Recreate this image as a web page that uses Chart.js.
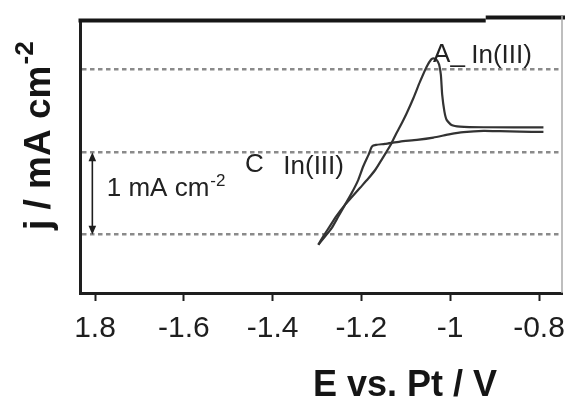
<!DOCTYPE html>
<html>
<head>
<meta charset="utf-8">
<script src="https://cdn.jsdelivr.net/npm/chart.js@4"></script>
<style>
html, body { margin: 0; padding: 0; background: #fff; }
canvas { display: block; }
</style>
</head>
<body>
<canvas id="cv" width="565" height="397"></canvas>
<script>
// Cathodic sweep, from -0.79 V down to the switching potential (E in V vs. Pt, j in mA cm-2)
const cathodicE = [-0.790, -0.843, -0.888, -0.925, -0.970, -1.000, -1.038, -1.075, -1.113, -1.147,
                   -1.167, -1.176, -1.184, -1.196, -1.207, -1.222, -1.237, -1.252, -1.267, -1.282, -1.297];
const cathodicJ = [0.245, 0.248, 0.254, 0.258, 0.242, 0.218, 0.177, 0.149, 0.128, 0.100,
                   0.088, 0.070, -0.033, -0.174, -0.335, -0.496, -0.638, -0.779, -0.920, -1.021, -1.121];

// Anodic return sweep with the In(III) stripping peak
const anodicE = [-1.297, -1.288, -1.272, -1.256, -1.239, -1.221, -1.203, -1.185, -1.169, -1.156,
                 -1.145, -1.133, -1.122, -1.113, -1.098, -1.083, -1.068, -1.053, -1.043, -1.038,
                 -1.031, -1.025, -1.021, -1.018, -1.013, -1.008, -0.997, -0.978, -0.925, -0.790];
const anodicJ = [-1.121, -1.037, -0.904, -0.771, -0.650, -0.541, -0.432, -0.323, -0.216, -0.105,
                 -0.008, 0.100, 0.221, 0.310, 0.472, 0.653, 0.854, 1.036, 1.123, 1.137,
                 1.120, 1.062, 0.935, 0.693, 0.491, 0.391, 0.330, 0.310, 0.302, 0.300];

// Potential axis ticks and their printed labels
const potentialTicks = [-1.8, -1.6, -1.4, -1.2, -1.0, -0.8];
const potentialLabels = ['1.8', '-1.6', '-1.4', '-1.2', '-1', '-0.8'];

// Dashed reference current levels, 1 mA cm-2 apart
const currentLevels = [-1, 0, 1];

const FONT = '"Liberation Sans", Arial, Helvetica, sans-serif';
const INK = '#1e1e1e';
const TRACE = '#333';

function toPoints(es, js) {
  return es.map((e, i) => ({ x: e, y: js[i] }));
}

// Annotation anchors, in axis units
const notes = {
  scaleBar: { e: -1.806, from: 0, to: -1 },
  scaleText: { e: -1.7736, j: -0.537 },
  cathodic: { e: -1.4622, j: -0.245, eText: -1.3759, jText: -0.263 },
  anodic: { e: -1.0385, j: 1.092, eText: -0.9527, jText: 1.080 }
};

const decorations = {
  id: 'decorations',
  afterDraw(chart) {
    const { ctx, chartArea: a, scales: { x, y } } = chart;
    ctx.save();

    // heavy top rule with a slight step towards the right end
    const stepX = x.getPixelForValue(-0.92);
    ctx.strokeStyle = '#161616';
    ctx.lineWidth = 4;
    ctx.beginPath();
    ctx.moveTo(a.left - 1.5, a.top + 0.5);
    ctx.lineTo(stepX, a.top + 0.5);
    ctx.stroke();
    ctx.beginPath();
    ctx.moveTo(stepX, a.top - 2.5);
    ctx.lineTo(chart.width, a.top - 2.5);
    ctx.stroke();

    // faint right edge of the frame
    ctx.strokeStyle = '#a8a8a8';
    ctx.lineWidth = 1.5;
    ctx.beginPath();
    ctx.moveTo(a.right, a.top - 4);
    ctx.lineTo(a.right, a.bottom);
    ctx.stroke();

    // 1 mA cm-2 scale bar with arrowheads at both ends
    const bx = x.getPixelForValue(notes.scaleBar.e);
    const y0 = y.getPixelForValue(notes.scaleBar.from);
    const y1 = y.getPixelForValue(notes.scaleBar.to);
    ctx.strokeStyle = INK;
    ctx.fillStyle = INK;
    ctx.lineWidth = 1.6;
    ctx.beginPath();
    ctx.moveTo(bx, y0 + 4);
    ctx.lineTo(bx, y1 - 4);
    ctx.stroke();
    ctx.beginPath();
    ctx.moveTo(bx, y0);
    ctx.lineTo(bx - 3.8, y0 + 9);
    ctx.lineTo(bx + 3.8, y0 + 9);
    ctx.closePath();
    ctx.fill();
    ctx.beginPath();
    ctx.moveTo(bx, y1);
    ctx.lineTo(bx - 3.8, y1 - 9);
    ctx.lineTo(bx + 3.8, y1 - 9);
    ctx.closePath();
    ctx.fill();

    ctx.fillStyle = '#222';
    ctx.textBaseline = 'alphabetic';
    ctx.textAlign = 'left';

    // scale bar caption
    let tx = x.getPixelForValue(notes.scaleText.e);
    let ty = y.getPixelForValue(notes.scaleText.j);
    ctx.font = '26px ' + FONT;
    ctx.fillText('1 mA cm', tx, ty);
    let w = ctx.measureText('1 mA cm').width;
    ctx.font = '17px ' + FONT;
    ctx.fillText('-2', tx + w + 1, ty - 10);

    // peak labels
    ctx.font = '26px ' + FONT;
    ctx.fillText('C', x.getPixelForValue(notes.cathodic.e), y.getPixelForValue(notes.cathodic.j));
    ctx.fillText('In(III)', x.getPixelForValue(notes.cathodic.eText), y.getPixelForValue(notes.cathodic.jText));
    ctx.fillText('A_', x.getPixelForValue(notes.anodic.e), y.getPixelForValue(notes.anodic.j));
    ctx.fillText('In(III)', x.getPixelForValue(notes.anodic.eText), y.getPixelForValue(notes.anodic.jText));

    // axis titles
    ctx.fillStyle = '#151515';
    ctx.font = 'bold 36px ' + FONT;
    ctx.textAlign = 'center';
    ctx.fillText('E vs. Pt / V', 405, 396);

    ctx.save();
    ctx.translate(50, 230);
    ctx.rotate(-Math.PI / 2);
    ctx.textAlign = 'left';
    ctx.font = 'bold 37px ' + FONT;
    ctx.fillText('j / mA cm', 0, 0);
    w = ctx.measureText('j / mA cm').width;
    ctx.font = 'bold 26px ' + FONT;
    ctx.fillText('-2', w + 1, -17);
    ctx.restore();

    ctx.restore();
  }
};

const traceStyle = {
  showLine: true,
  borderColor: TRACE,
  borderWidth: 2.2,
  pointRadius: 0,
  tension: 0.2,
  fill: false
};

new Chart(document.getElementById('cv'), {
  type: 'scatter',
  data: {
    datasets: [
      Object.assign({ label: 'cathodic', data: toPoints(cathodicE, cathodicJ) }, traceStyle),
      Object.assign({ label: 'anodic', data: toPoints(anodicE, anodicJ) }, traceStyle)
    ]
  },
  options: {
    responsive: false,
    animation: false,
    devicePixelRatio: 1,
    layout: { padding: { left: 80, top: 20, right: 3, bottom: 0 } },
    plugins: { legend: { display: false }, tooltip: { enabled: false } },
    scales: {
      x: {
        type: 'linear',
        position: 'bottom',
        min: -1.8338,
        max: -0.7482,
        afterBuildTicks(scale) { scale.ticks = potentialTicks.map(v => ({ value: v })); },
        afterFit(scale) {
          scale.height = 104;
          // let the end labels run to the canvas edge
          scale.paddingLeft = 0;
          scale.paddingRight = 0;
        },
        grid: { drawOnChartArea: false, drawTicks: true, tickLength: 8, tickWidth: 2, tickColor: INK, color: INK },
        border: { display: true, width: 3, color: INK },
        ticks: {
          autoSkip: false,
          maxRotation: 0,
          padding: 10,
          color: INK,
          font: { family: FONT, size: 30 },
          callback: (v, i) => potentialLabels[i]
        }
      },
      y: {
        type: 'linear',
        position: 'left',
        min: -1.706,
        max: 1.601,
        afterBuildTicks(scale) { scale.ticks = currentLevels.map(v => ({ value: v })); },
        afterFit(scale) { scale.width = 0; },
        grid: { drawOnChartArea: true, drawTicks: false, color: '#8a8a8a', lineWidth: 2.5 },
        border: { display: true, width: 3, color: INK, dash: [4.5, 3.5] },
        ticks: { display: false }
      }
    }
  },
  plugins: [decorations]
});
</script>
</body>
</html>
